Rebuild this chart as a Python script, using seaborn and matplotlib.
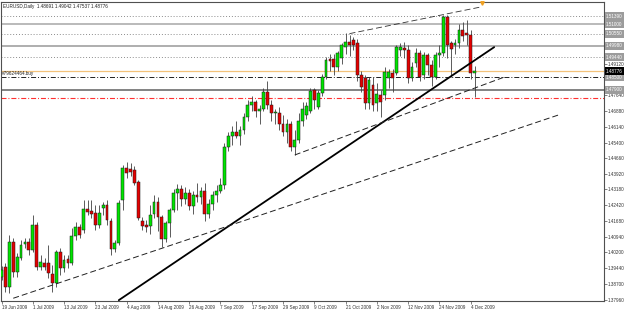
import numpy as np
import pandas as pd
import seaborn as sns
import matplotlib.pyplot as plt

# EURUSD daily candles, 19 Jun 2009 .. 7 Dec 2009
chart_title = "EURUSD,Daily  1.48691 1.49042 1.47537 1.48776"

date_labels = ["19 Jun 2009", "1 Jul 2009", "13 Jul 2009", "23 Jul 2009", "4 Aug 2009",
               "14 Aug 2009", "26 Aug 2009", "7 Sep 2009", "17 Sep 2009", "29 Sep 2009",
               "9 Oct 2009", "21 Oct 2009", "2 Nov 2009", "12 Nov 2009", "24 Nov 2009",
               "4 Dec 2009"]

opens = [1.3902, 1.3950, 1.3855, 1.4068, 1.3926, 1.3992, 1.4059, 1.4068, 1.4030, 1.4149,
         1.3950, 1.3969, 1.3969, 1.3917, 1.3874, 1.4021, 1.3945, 1.3988, 1.3969, 1.4097,
         1.4139, 1.4125, 1.4225, 1.4215, 1.4206, 1.4149, 1.4230, 1.4244, 1.4168, 1.4035,
         1.4064, 1.4267, 1.4419, 1.4414, 1.4410, 1.4353, 1.4168, 1.4149, 1.4144, 1.4200,
         1.4260, 1.4185, 1.4085, 1.4160, 1.4220, 1.4300, 1.4320, 1.4270, 1.4300, 1.4240,
         1.4290, 1.4280, 1.4310, 1.4200, 1.4250, 1.4290, 1.4310, 1.4340, 1.4520, 1.4570,
         1.4590, 1.4570, 1.4600, 1.4660, 1.4720, 1.4730, 1.4690, 1.4700, 1.4780, 1.4720,
         1.4680, 1.4680, 1.4630, 1.4590, 1.4630, 1.4520, 1.4550, 1.4640, 1.4670, 1.4690,
         1.4789, 1.4710, 1.4775, 1.4850, 1.4936, 1.4936, 1.4898, 1.4940, 1.4993, 1.5016,
         1.5025, 1.5012, 1.4860, 1.4846, 1.4727, 1.4813, 1.4727, 1.4765, 1.4765, 1.4846,
         1.4870, 1.4870, 1.4979, 1.4988, 1.4979, 1.4846, 1.4917, 1.4964, 1.4860, 1.4955,
         1.4907, 1.4850, 1.4955, 1.4964, 1.5135, 1.5012, 1.5002, 1.5012, 1.5073, 1.5059,
         1.5050, 1.48691]
highs = [1.3955, 1.3969, 1.4102, 1.4087, 1.4016, 1.4078, 1.4087, 1.4087, 1.4196, 1.4163,
         1.4007, 1.3993, 1.4054, 1.3959, 1.4030, 1.4040, 1.4007, 1.4007, 1.4135, 1.4163,
         1.4154, 1.4267, 1.4267, 1.4267, 1.4244, 1.4244, 1.4258, 1.4267, 1.4182, 1.4078,
         1.4267, 1.4433, 1.4448, 1.4443, 1.4429, 1.4362, 1.4187, 1.4173, 1.4244, 1.4290,
         1.4280, 1.4195, 1.4170, 1.4230, 1.4320, 1.4345, 1.4340, 1.4330, 1.4320, 1.4310,
         1.4350, 1.4330, 1.4350, 1.4270, 1.4310, 1.4340, 1.4370, 1.4540, 1.4590, 1.4620,
         1.4640, 1.4620, 1.4680, 1.4740, 1.4760, 1.4740, 1.4720, 1.4800, 1.4830, 1.4740,
         1.4700, 1.4710, 1.4670, 1.4650, 1.4640, 1.4600, 1.4680, 1.4730, 1.4730, 1.4800,
         1.4800, 1.4790, 1.4865, 1.4945, 1.4960, 1.4960, 1.4975, 1.5010, 1.5060, 1.5050,
         1.5040, 1.5030, 1.4880, 1.4860, 1.4850, 1.4850, 1.4820, 1.4790, 1.4900, 1.4890,
         1.4890, 1.5000, 1.5010, 1.5015, 1.5000, 1.4920, 1.4990, 1.4980, 1.4970, 1.4965,
         1.4930, 1.4970, 1.5000, 1.5144, 1.5144, 1.5020, 1.5030, 1.5100, 1.5110, 1.5120,
         1.5075, 1.49042]
lows = [1.3888, 1.3831, 1.3827, 1.3902, 1.3902, 1.3983, 1.4040, 1.4007, 1.4021, 1.3936,
        1.3936, 1.3936, 1.3898, 1.3831, 1.3855, 1.3912, 1.3926, 1.3945, 1.3959, 1.4078,
        1.4087, 1.4111, 1.4196, 1.4182, 1.4125, 1.4135, 1.4196, 1.4149, 1.4007, 1.4021,
        1.4054, 1.4220, 1.4372, 1.4381, 1.4339, 1.4173, 1.4125, 1.4116, 1.4106, 1.4180,
        1.4120, 1.4045, 1.4070, 1.4090, 1.4210, 1.4220, 1.4240, 1.4250, 1.4220, 1.4200,
        1.4260, 1.4250, 1.4170, 1.4180, 1.4220, 1.4260, 1.4300, 1.4320, 1.4500, 1.4530,
        1.4560, 1.4530, 1.4580, 1.4640, 1.4690, 1.4660, 1.4630, 1.4690, 1.4700, 1.4640,
        1.4630, 1.4600, 1.4570, 1.4540, 1.4500, 1.4483, 1.4540, 1.4620, 1.4650, 1.4680,
        1.4700, 1.4700, 1.4760, 1.4840, 1.4880, 1.4860, 1.4880, 1.4910, 1.4960, 1.4950,
        1.4980, 1.4830, 1.4780, 1.4700, 1.4700, 1.4690, 1.4690, 1.4660, 1.4740, 1.4800,
        1.4780, 1.4860, 1.4950, 1.4940, 1.4820, 1.4830, 1.4900, 1.4830, 1.4840, 1.4860,
        1.4810, 1.4840, 1.4900, 1.4950, 1.4940, 1.4850, 1.4960, 1.4990, 1.5020, 1.5000,
        1.4840, 1.47537]
closes = [1.3936, 1.3855, 1.4068, 1.3926, 1.3997, 1.4054, 1.4068, 1.4030, 1.4149, 1.3950,
          1.3974, 1.3950, 1.3921, 1.3874, 1.4021, 1.3945, 1.3983, 1.3969, 1.4097, 1.4139,
          1.4102, 1.4225, 1.4211, 1.4201, 1.4149, 1.4206, 1.4244, 1.4173, 1.4035, 1.4064,
          1.4253, 1.4419, 1.4395, 1.4400, 1.4348, 1.4182, 1.4144, 1.4139, 1.4196, 1.4260,
          1.4185, 1.4085, 1.4160, 1.4220, 1.4300, 1.4320, 1.4270, 1.4300, 1.4240, 1.4290,
          1.4280, 1.4310, 1.4200, 1.4250, 1.4290, 1.4310, 1.4340, 1.4520, 1.4570, 1.4590,
          1.4570, 1.4600, 1.4660, 1.4720, 1.4730, 1.4690, 1.4700, 1.4780, 1.4720, 1.4680,
          1.4685, 1.4630, 1.4590, 1.4630, 1.4520, 1.4550, 1.4640, 1.4700, 1.4715, 1.4785,
          1.4742, 1.4775, 1.4850, 1.4931, 1.4926, 1.4898, 1.4964, 1.5002, 1.5016, 1.5002,
          1.5002, 1.4860, 1.4803, 1.4727, 1.4836, 1.4718, 1.4770, 1.4732, 1.4874, 1.4874,
          1.4846, 1.4993, 1.4993, 1.4979, 1.4846, 1.4898, 1.4964, 1.4850, 1.4955, 1.4907,
          1.4850, 1.4955, 1.4964, 1.5135, 1.5002, 1.4983, 1.5012, 1.5073, 1.5045, 1.5050,
          1.4869, 1.48776]

# price axis labels as printed by the terminal
price_labels = ["1.37960", "1.38700", "1.39440", "1.40200", "1.40940", "1.41680", "1.42420",
                "1.43180", "1.43920", "1.44660", "1.45400", "1.46140", "1.46880", "1.47640",
                "1.49120"]

# horizontal levels drawn on the chart
dotted_levels = [1.51390, 1.50550, 1.49440]
solid_levels = [1.51000, 1.49980, 1.47900]
solid_colors = ["#b4b4b4", "#a8a8a8", "#787878"]
current_price = 1.48776
order_price = 1.48500
stop_price = 1.47510
order_name = "#79624464.buy"

# trend lines: (bar, price) start and end
main_trend = ([30, 126], [1.3793, 1.4992])
long_dashed = ([3, 143], [1.3802, 1.4674])
channel_low = ([75, 129], [1.4481, 1.4853])
channel_high = ([89, 122.5], [1.5056, 1.5182])

df = pd.DataFrame({"open": opens, "high": highs, "low": lows, "close": closes})
df["bar"] = np.arange(len(df))
df["up"] = df["close"] >= df["open"]

sns.set_style("white")
plt.rcParams["font.family"] = ["Liberation Sans", "DejaVu Sans"]
plt.rcParams["lines.scale_dashes"] = False

fig = plt.figure(figsize=(6.25, 3.1), dpi=100)
ax = fig.add_axes([0.0008, 0.0306, 0.9648, 0.963])

# horizontal levels
for lvl in dotted_levels:
    ax.axhline(lvl, color="#8c8c8c", lw=0.7, dashes=(0.7, 1.4), zorder=1)
for lvl, c in zip(solid_levels, solid_colors):
    ax.axhline(lvl, color=c, lw=1.3, zorder=1)
ax.axhline(current_price, color="#f3c27a", lw=0.9, zorder=1)
ax.axhline(order_price, color="#202020", lw=0.7, dashes=(3.6, 1.4, 0.7, 1.4), zorder=1)
ax.axhline(stop_price, color="#ff3030", lw=0.8, dashes=(3.6, 1.4, 0.7, 1.4), zorder=1)

# candles
ax.vlines(df["bar"], df["low"], df["high"], color="#404040", lw=0.6, zorder=2)
body_bottom = df[["open", "close"]].min(axis=1)
body_height = (df["close"] - df["open"]).abs().clip(lower=0.00004)
ax.bar(df["bar"], body_height, bottom=body_bottom, width=0.72,
       color=np.where(df["up"], "#00e400", "#e40000"),
       edgecolor="#1a1a1a", linewidth=0.35, zorder=3)

# trend lines
ax.plot(*main_trend, color="black", lw=1.3, zorder=4)
ax.plot(*long_dashed, color="#202020", lw=0.7, dashes=(4.3, 2.2), zorder=4)
ax.plot(*channel_low, color="#202020", lw=0.7, dashes=(4.3, 2.2), zorder=4)
ax.plot(*channel_high, color="#303030", lw=0.6, dashes=(4.3, 2.2), zorder=4)
ax.plot(channel_high[0][1] + 0.3, 1.5203, marker="v", ms=2.5, color="#f0a020",
        clip_on=False, zorder=5)

ax.set_xlim(-0.26, 153.96)
ax.set_ylim(1.37913, 1.52060)

# axes / ticks
fs = 3.3
ax.yaxis.tick_right()
ax.set_yticks([float(v) for v in price_labels], price_labels)
ax.set_xticks(np.arange(len(date_labels)) * 8, date_labels)
for lab in ax.get_xticklabels():
    lab.set_ha("left")
ax.tick_params(axis="y", right=True, length=2, width=0.5, pad=1, labelsize=fs,
               labelcolor="#333333", color="#505050")
ax.tick_params(axis="x", bottom=True, length=2, width=0.5, pad=1.5, labelsize=fs,
               labelcolor="#333333", color="#505050")
for sp in ax.spines.values():
    sp.set_color("#505050")
    sp.set_linewidth(0.8)

# price boxes on the right
ytr = ax.get_yaxis_transform()
box_levels = [(v, "#9c9c9c") for v in dotted_levels + solid_levels] + [(order_price, "#9c9c9c")]
for v, c in box_levels:
    ax.text(1.004, v, f"{v:.5f}", transform=ytr, fontsize=fs, color="white", ha="left",
            va="center", clip_on=False, zorder=6,
            bbox=dict(boxstyle="square,pad=0.3", fc=c, ec="none"))
ax.text(1.004, current_price, f"{current_price:.5f}", transform=ytr, fontsize=fs,
        color="white", ha="left", va="center", clip_on=False, zorder=7,
        bbox=dict(boxstyle="square,pad=0.3", fc="black", ec="none"))

ax.text(0.003, order_price + 0.0003, order_name, transform=ytr, fontsize=fs,
        color="#202020", ha="left", va="bottom")
ax.text(0.004, 0.992, chart_title, transform=ax.transAxes, fontsize=fs,
        color="#202020", ha="left", va="top")

fig.savefig("out.png", dpi=100)
